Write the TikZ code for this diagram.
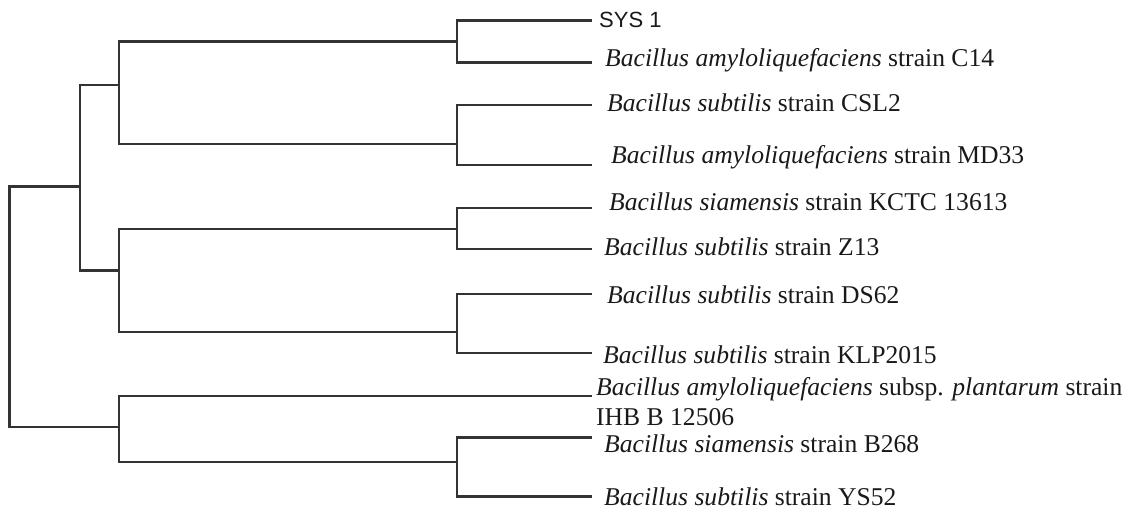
\documentclass[tikz,border=0pt]{standalone}
\usepackage{fontspec}
\setmainfont{Liberation Serif}
\newfontfamily\arialfont{Liberation Sans}
\begin{document}
\begin{tikzpicture}[x=1pt,y=-1pt,
  branch/.style={line width=2.6pt, draw=black!80, line cap=rect},
  leaflabel/.style={anchor=west, inner sep=0pt, font=\fontsize{25.6}{30}\selectfont, text=black!90},
  syslabel/.style={anchor=west, inner sep=0pt, font=\arialfont\fontsize{22}{26}\selectfont, text=black!90}]
\useasboundingbox (0,0) rectangle (1133,511);
% leaves (line ends)
\coordinate (L1) at (591,20.7);
\coordinate (L2) at (591,62.7);
\coordinate (L3) at (591,105);
\coordinate (L4) at (591,165);
\coordinate (L5) at (591,208);
\coordinate (L6) at (591,249);
\coordinate (L7) at (591,294);
\coordinate (L8) at (591,353);
\coordinate (L9) at (591,396);
\coordinate (L10) at (591,437.7);
\coordinate (L11) at (591,496.5);
% internal nodes
\coordinate (n12) at (457,41.7);
\coordinate (n34) at (457,144);
\coordinate (n56) at (457,229);
\coordinate (n78) at (457,332);
\coordinate (n1011) at (457,462);
\coordinate (na) at (119,85);
\coordinate (nb) at (119,270.7);
\coordinate (nc) at (80,186.7);
\coordinate (nd) at (119,427);
\coordinate (root) at (9.3,300);
% branches
\draw[branch] (L1) -- (L1 -| n12) -- (L2 -| n12) -- (L2);
\draw[branch] (L3) -- (L3 -| n34) -- (L4 -| n34) -- (L4);
\draw[branch] (L5) -- (L5 -| n56) -- (L6 -| n56) -- (L6);
\draw[branch] (L7) -- (L7 -| n78) -- (L8 -| n78) -- (L8);
\draw[branch] (L10) -- (L10 -| n1011) -- (L11 -| n1011) -- (L11);
\draw[branch] (n12) -- (n12 -| na) -- (n34 -| na) -- (n34);
\draw[branch] (n56) -- (n56 -| nb) -- (n78 -| nb) -- (n78);
\draw[branch] (na) -- (na -| nc) -- (nb -| nc) -- (nb);
\draw[branch] (L9) -- (L9 -| nd) -- (n1011 -| nd) -- (n1011);
\draw[branch] (nc) -- (nc -| root) -- (nd -| root) -- (nd);
% labels
\node[syslabel] (t1) at (599,20) {SYS 1};
\node[leaflabel] (t2) at (605,60) {\textit{Bacillus amyloliquefaciens} strain C14};
\node[leaflabel] (t3) at (607,103) {\textit{Bacillus subtilis} strain CSL2};
\node[leaflabel] (t4) at (611,157) {\textit{Bacillus amyloliquefaciens} strain MD33};
\node[leaflabel] (t5) at (609,202) {\textit{Bacillus siamensis} strain KCTC 13613};
\node[leaflabel] (t6) at (604,247) {\textit{Bacillus subtilis} strain Z13};
\node[leaflabel] (t7) at (607,295) {\textit{Bacillus subtilis} strain DS62};
\node[leaflabel] (t8) at (603,355) {\textit{Bacillus subtilis} strain KLP2015};
\node[leaflabel] (t9) at (596,389) {\textit{Bacillus amyloliquefaciens} subsp. \textit{plantarum} strain};
\node[leaflabel] (t9b) at (596,417) {IHB B 12506};
\node[leaflabel] (t10) at (604,444) {\textit{Bacillus siamensis} strain B268};
\node[leaflabel] (t11) at (604,497) {\textit{Bacillus subtilis} strain YS52};
\end{tikzpicture}
\end{document}
